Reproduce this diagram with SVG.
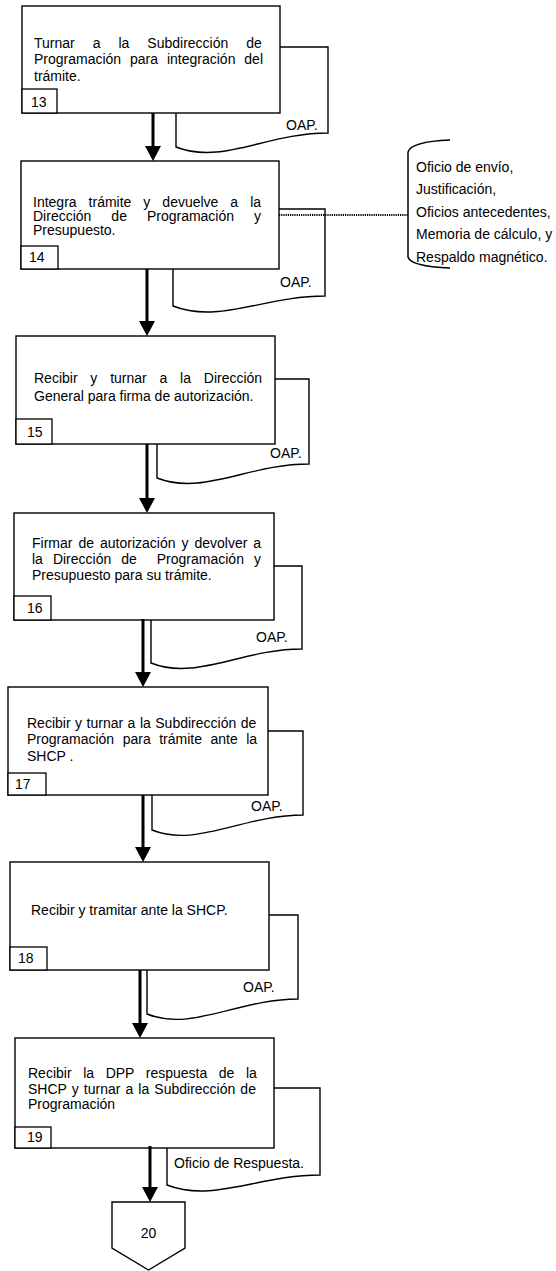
<svg xmlns="http://www.w3.org/2000/svg" width="556" height="1271" viewBox="0 0 556 1271">
<style>
text{font-family:"Liberation Sans",Arial,sans-serif;font-size:14px;fill:#000}
.box{fill:#fff;stroke:#000;stroke-width:1.4}
.num{fill:#fff;stroke:#000;stroke-width:1.3}
.doc{fill:#fff;stroke:#000;stroke-width:1.4}
.arrow{stroke:#000;stroke-width:3;fill:none}
.dot{stroke:#000;stroke-width:2;stroke-dasharray:1.2 1;fill:none}
.brace{stroke:#000;stroke-width:1.5;fill:none}
</style>
<defs>
<marker id="ah" markerUnits="userSpaceOnUse" viewBox="0 0 15 16" markerWidth="15" markerHeight="16" refX="5" refY="8" orient="auto">
<path d="M0,0 L15,8 L0,16 Z" fill="#000"/>
</marker>
</defs>
<rect width="556" height="1271" fill="#fff"/>

<g id="node13">
<path class="doc" d="M176,147 V47 H328 V133 C267,133 222,165 176,147 Z"/>
<rect class="box" x="22" y="6" width="258" height="107"/>
<text x="34" y="48" word-spacing="14.1">Turnar a la Subdirección de</text>
<text x="34" y="64" word-spacing="5">Programación para integración del</text>
<text x="34" y="81">trámite.</text>
<rect class="num" x="22" y="89" width="35" height="24"/>
<text x="31" y="107">13</text>
<text x="286" y="130">OAP.</text>
</g>

<g id="node14">
<path class="doc" d="M173,306 V209 H325 V296 C264,296 219,324 173,306 Z"/>
<rect class="box" x="21" y="161" width="258" height="108"/>
<text x="33" y="207" word-spacing="8.1">Integra trámite y devuelve a la</text>
<text x="33" y="221" word-spacing="16.1">Dirección de Programación y</text>
<text x="33" y="235">Presupuesto.</text>
<rect class="num" x="21" y="246" width="37" height="23"/>
<text x="29" y="262">14</text>
<text x="280" y="287">OAP.</text>
</g>

<g id="docs14">
<path class="brace" d="M450,140 C425,141 410,145 408,152 L408,257 C410,264 425,267 450,268"/>
<text x="416" y="172">Oficio de envío,</text>
<text x="416" y="194">Justificación,</text>
<text x="416" y="217">Oficios antecedentes,</text>
<text x="416" y="239">Memoria de cálculo, y</text>
<text x="416" y="262">Respaldo magnético.</text>
</g>

<g id="node15">
<path class="doc" d="M157,478 V379 H309 V464 C248,464 203,496 157,478 Z"/>
<rect class="box" x="16" y="336" width="259" height="108"/>
<text x="34" y="383" word-spacing="8.9">Recibir y turnar a la Dirección</text>
<text x="34" y="401">General para firma de autorización.</text>
<rect class="num" x="16" y="419" width="36" height="25"/>
<text x="27" y="437">15</text>
<text x="270" y="458">OAP.</text>
</g>

<g id="node16">
<path class="doc" d="M151,663 V566 H302 V649 C242,649 196,681 151,663 Z"/>
<rect class="box" x="14" y="513" width="260" height="107"/>
<text x="32" y="548" word-spacing="2.1">Firmar de autorización y devolver a</text>
<text x="32" y="564" word-spacing="6.1" xml:space="preserve">la Dirección de  Programación y</text>
<text x="32" y="580">Presupuesto para su trámite.</text>
<rect class="num" x="14" y="596" width="37" height="24"/>
<text x="27" y="613">16</text>
<text x="256" y="642">OAP.</text>
</g>

<g id="node17">
<path class="doc" d="M152,830 V731 H303 V815 C243,815 197,848 152,830 Z"/>
<rect class="box" x="8" y="687" width="260" height="108"/>
<text x="27" y="728" word-spacing="0.6">Recibir y turnar a la Subdirección de</text>
<text x="27" y="744" word-spacing="4.6">Programación para trámite ante la</text>
<text x="27" y="761">SHCP .</text>
<rect class="num" x="8" y="773" width="38" height="22"/>
<text x="15" y="789">17</text>
<text x="251" y="811">OAP.</text>
</g>

<g id="node18">
<path class="doc" d="M147,1014 V915 H298 V999 C238,999 192,1032 147,1014 Z"/>
<rect class="box" x="10" y="862" width="259" height="108"/>
<text x="31" y="915">Recibir y tramitar ante la SHCP.</text>
<rect class="num" x="10" y="947" width="37" height="23"/>
<text x="18" y="963">18</text>
<text x="243" y="992">OAP.</text>
</g>

<g id="node19">
<path class="doc" d="M167,1185 V1088 H320 V1175 C259,1175 213,1203 167,1185 Z"/>
<rect class="box" x="15" y="1038" width="259" height="110"/>
<text x="28" y="1078" word-spacing="7.7">Recibir la DPP respuesta de la</text>
<text x="28" y="1094" word-spacing="1.2">SHCP y turnar a la Subdirección de</text>
<text x="28" y="1109">Programación</text>
<rect class="num" x="15" y="1127" width="36" height="21"/>
<text x="27" y="1142">19</text>
<text x="174" y="1168">Oficio de Respuesta.</text>
</g>

<g id="node20">
<path class="box" d="M112,1202 H185 V1248 L148.5,1270 L112,1248 Z"/>
<text x="148.5" y="1238" text-anchor="middle">20</text>
</g>

<g id="connectors">
<line class="arrow" x1="153" y1="113" x2="153" y2="151" marker-end="url(#ah)"/>
<line class="arrow" x1="147" y1="269" x2="147" y2="326" marker-end="url(#ah)"/>
<line class="arrow" x1="147" y1="444" x2="147" y2="503" marker-end="url(#ah)"/>
<line class="arrow" x1="143" y1="619" x2="143" y2="677" marker-end="url(#ah)"/>
<line class="arrow" x1="143" y1="795" x2="143" y2="852" marker-end="url(#ah)"/>
<line class="arrow" x1="140" y1="970" x2="140" y2="1028" marker-end="url(#ah)"/>
<line class="arrow" x1="150" y1="1146" x2="150" y2="1192" marker-end="url(#ah)"/>
<line class="dot" x1="279" y1="215" x2="408" y2="215"/>
</g>
</svg>
